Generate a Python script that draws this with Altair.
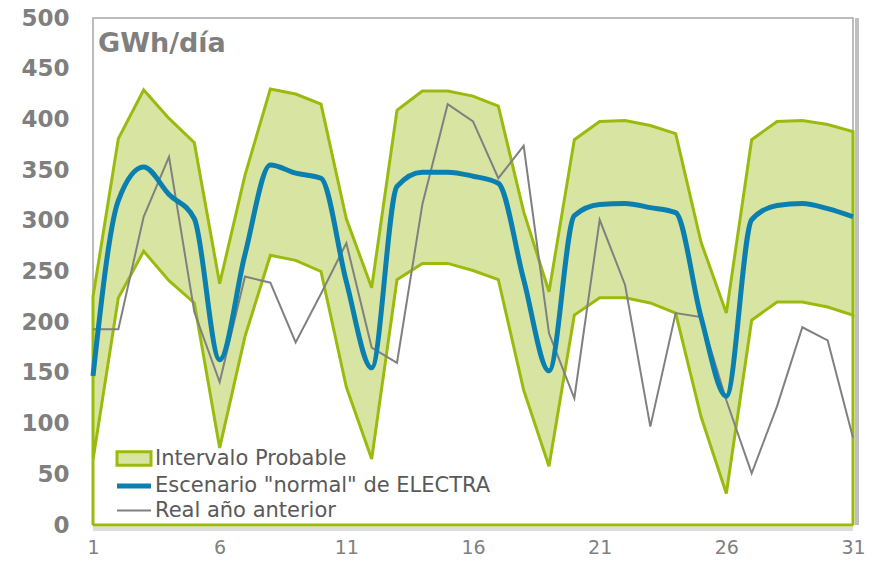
import altair as alt
import pandas as pd

days = list(range(1, 32))
upper = [225, 381, 429, 401, 377, 238, 345, 430, 425, 415, 302, 234, 409, 428, 428, 423,
         413, 309, 230, 380, 398, 399, 394, 386, 279, 209, 380, 398, 399, 395, 388]
lower = [64, 224, 270, 241, 219, 76, 186, 266, 261, 250, 136, 65, 242, 258, 258, 251,
         242, 133, 58, 207, 224, 224, 219, 209, 107, 31, 202, 220, 220, 215, 207]
electra = [147, 320, 353, 326, 302, 163, 267, 355, 347, 342, 240, 155, 334, 348, 348, 344,
           337, 242, 152, 305, 316, 317, 313, 308, 205, 127, 301, 315, 317, 312, 304]
real_prev = [193, 193, 304, 363, 210, 141, 245, 239, 180, 228, 278, 175, 160, 316, 415, 398,
             342, 374, 189, 125, 301, 237, 97, 209, 205, 123, 51, 117, 195, 182, 86]

series_names = ["Intervalo Probable", 'Escenario "normal" de ELECTRA', "Real año anterior"]
unit_label = ["GWh/día"]
x_ticks = [1, 6, 11, 16, 21, 26, 31]
y_ticks = [0, 50, 100, 150, 200, 250, 300, 350, 400, 450, 500]

GREEN = "#9abb0e"
FILL = "#d8e4a2"
BLUE = "#0a7fb0"
GREY = "#808080"

df = pd.DataFrame({"day": days, "upper": upper, "lower": lower,
                   "electra": electra, "real": real_prev})

xscale = alt.Scale(domain=[1, 31], nice=False, zero=False)
yscale = alt.Scale(domain=[0, 500], nice=False)

xaxis = alt.Axis(values=x_ticks, format="d", ticks=False, domain=False, grid=False,
                 labelFont="DejaVu Sans", labelFontSize=19, labelColor="#7f7f7f",
                 labelPadding=13, labelFlush=False, title=None)
yaxis = alt.Axis(values=y_ticks, format="d", ticks=False, domain=False, grid=False,
                 labelFont="DejaVu Sans", labelFontSize=23, labelFontWeight="bold",
                 labelColor="#7f7f7f", labelPadding=24, title=None)

base = alt.Chart(df)

band = base.mark_area(fill=FILL, stroke=GREEN, strokeWidth=3, strokeJoin="miter").encode(
    x=alt.X("day:Q", scale=xscale, axis=xaxis),
    y=alt.Y("upper:Q", scale=yscale, axis=yaxis),
    y2="lower:Q",
)

# frame helpers built from the data arrays
ends_df = pd.DataFrame({"day": [days[0], days[-1]], "zero": [0, 0],
                        "top": [lower[0], lower[-1]], "ymax": [y_ticks[-1], y_ticks[-1]]})
span_df = pd.DataFrame({"d0": [days[0]], "d1": [days[-1]], "zero": [0]})
label_df = pd.DataFrame({"day": [days[0]], "ymax": [y_ticks[-1]], "txt": unit_label})

edges = alt.Chart(ends_df).mark_rule(color=GREEN, strokeWidth=3).encode(
    x="day:Q", y="zero:Q", y2="top:Q")
bottom = alt.Chart(span_df).mark_rule(color=GREEN, strokeWidth=3).encode(
    x="d0:Q", x2="d1:Q", y="zero:Q")
shadow_r = alt.Chart(ends_df.iloc[[1]]).mark_rule(
    color="#8c8c8c", strokeWidth=4, opacity=0.55, xOffset=4).encode(
    x="day:Q", y="zero:Q", y2="ymax:Q")
shadow_b = alt.Chart(span_df).mark_rule(
    color="#9a9a9a", strokeWidth=4, opacity=0.35, yOffset=4).encode(
    x="d0:Q", x2="d1:Q", y="zero:Q")

unit_text = alt.Chart(label_df).mark_text(
    align="left", baseline="alphabetic", dx=5, dy=34,
    font="DejaVu Sans", fontSize=27, fontWeight="bold", color="#7f7f7f").encode(
    x="day:Q", y="ymax:Q", text="txt:N")

blue_line = base.mark_line(color=BLUE, strokeWidth=5, interpolate="monotone").encode(
    x="day:Q", y="electra:Q")
grey_line = base.mark_line(color=GREY, strokeWidth=2).encode(
    x="day:Q", y="real:Q")

rect_path = "M-2,-0.78H2V0.78H-2Z"
line_path = "M-2,0H2"
leg_df = pd.DataFrame({"serie": series_names, "day": [1, 1, 1], "v": [-300, -300, -300]})
legend = alt.Legend(title=None, orient="none", legendX=30, legendY=430,
                    labelFont="DejaVu Sans", labelFontSize=21, labelColor="#595959",
                    labelLimit=600, symbolSize=289, labelOffset=10, rowPadding=3,
                    padding=0)
leg = alt.Chart(leg_df).mark_point(clip=True, opacity=1, filled=False).encode(
    x="day:Q", y="v:Q",
    shape=alt.Shape("serie:N", scale=alt.Scale(domain=series_names,
                    range=[rect_path, line_path, line_path]), legend=legend),
    stroke=alt.Stroke("serie:N", scale=alt.Scale(domain=series_names,
                      range=[GREEN, BLUE, GREY]), legend=legend),
    fill=alt.Fill("serie:N", scale=alt.Scale(domain=series_names,
                  range=[FILL, "transparent", "transparent"]), legend=legend),
    strokeWidth=alt.StrokeWidth("serie:N", scale=alt.Scale(type="ordinal", domain=series_names,
                                range=[3, 5, 2]), legend=legend),
)

chart = alt.layer(shadow_r, shadow_b, band, edges, bottom, grey_line, blue_line,
                  unit_text, leg).properties(
    width=760, height=507,
    padding={"left": 85, "top": 10, "right": 18, "bottom": 31},
    autosize="none",
).configure_view(stroke="#a6a6a6", strokeWidth=1.5)

chart.save("out.html", embed_options={"renderer": "svg", "actions": False})
